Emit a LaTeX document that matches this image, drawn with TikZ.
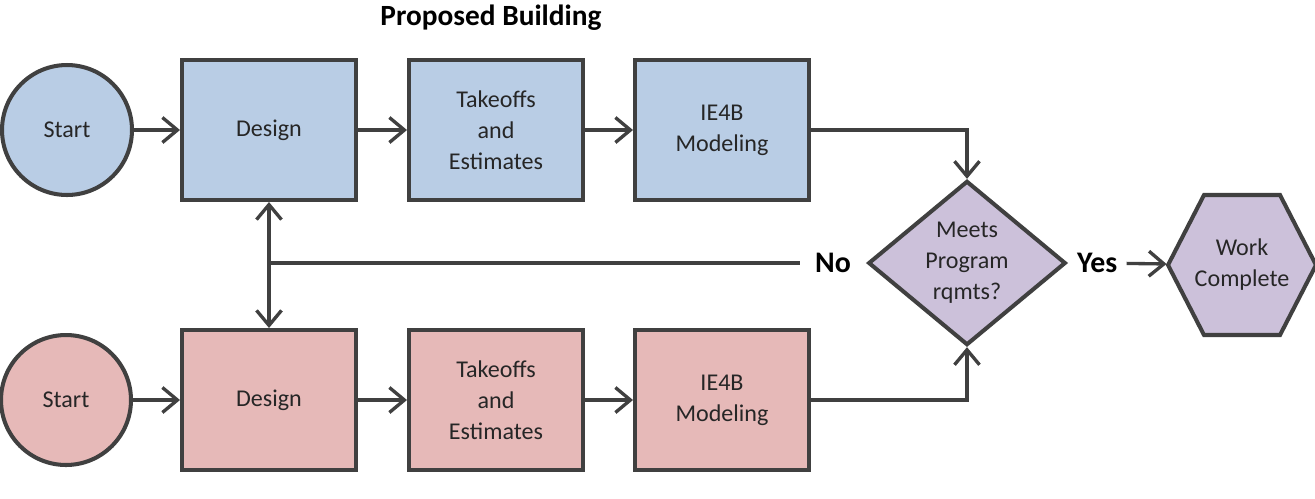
\documentclass[tikz,border=0pt]{standalone}
\usepackage{fontspec}
\setmainfont{Carlito}
\usetikzlibrary{arrows.meta,shapes.geometric}

\definecolor{edgegray}{HTML}{404040}
\definecolor{textgray}{HTML}{262626}
\definecolor{bluefill}{HTML}{B9CDE5}
\definecolor{redfill}{HTML}{E6B9B8}
\definecolor{purplefill}{HTML}{CCC1DA}

\begin{document}
\begin{tikzpicture}[x=0.02cm,y=-0.02cm,
  shapetext/.style={draw=edgegray,line width=2.3pt,inner sep=0pt,align=center,
    text=textgray,font=\fontsize{13.7}{17.6}\selectfont},
  startnode/.style={shapetext,circle,minimum size=2.6cm},
  box/.style={shapetext,rectangle,minimum width=3.48cm,minimum height=2.8cm},
  decision/.style={shapetext,diamond,minimum width=3.95cm,minimum height=3.1cm,fill=purplefill},
  finish/.style={shapetext,draw=none,rectangle,minimum width=2.94cm,minimum height=2.8cm},
  hexline/.style={draw=edgegray,line width=2.3pt,fill=purplefill,line join=miter},
  answer/.style={font=\bfseries\fontsize{17}{20}\selectfont,inner ysep=1pt},
  link/.style={draw=edgegray,line width=1.9pt,-{Straight Barb[length=0.3cm,width=0.5cm]}}
]

\useasboundingbox (0,0) rectangle (1315,498);

\node[font=\bfseries\fontsize{16.7}{20}\selectfont] (title) at (491,18) {Proposed Building};

\node[startnode,fill=bluefill] (s1) at (67,130) {Start};
\node[box,fill=bluefill] (d1) at (269,130) {Design};
\node[box,fill=bluefill] (t1) at (496,130) {Takeoffs\\and\\Estimates};
\node[box,fill=bluefill] (m1) at (722,130) {IE4B\\Modeling};

\node[startnode,fill=redfill] (s2) at (66,400) {Start};
\node[box,fill=redfill] (d2) at (269,400) {Design};
\node[box,fill=redfill] (t2) at (496,400) {Takeoffs\\and\\Estimates};
\node[box,fill=redfill] (m2) at (722,400) {IE4B\\Modeling};

\node[decision] (q) at (967,263) {Meets\\Program\\rqmts?};

\path[hexline] (1168,265) -- (1204,195) -- (1280,195) -- (1316,265)
  -- (1280,335) -- (1204,335) -- cycle;
\node[finish] (done) at (1242,265) {Work\\Complete};

\node[answer,anchor=east,inner xsep=0.3cm] (no) at (q.west) {No};
\node[answer,anchor=west,inner xsep=0.18cm] (yes) at (q.east) {Yes};

\coordinate (jn) at (d1.south |- no.west);

\draw[link] (s1) -- (d1);
\draw[link] (d1) -- (t1);
\draw[link] (t1) -- (m1);
\draw[link] (s2) -- (d2);
\draw[link] (d2) -- (t2);
\draw[link] (t2) -- (m2);

\draw[link] (m1.east) -| (q.north);
\draw[link] (m2.east) -| (q.south);
\draw[link] (yes) -- (done);

\draw[draw=edgegray,line width=1.9pt] (no.west) -- (jn);
\draw[link] (jn) -- (d1.south);
\draw[link] (jn) -- (d2.north);

\end{tikzpicture}
\end{document}
